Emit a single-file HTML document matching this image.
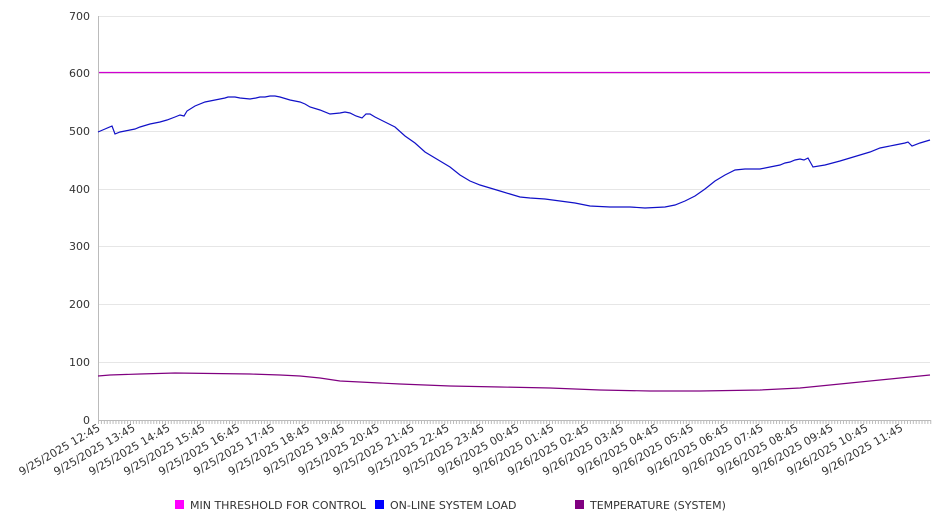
<!DOCTYPE html>
<html><head><meta charset="utf-8"><style>
html,body{margin:0;padding:0;background:#fff;}
svg{display:block;font-family:"DejaVu Sans","Liberation Sans",sans-serif;}
</style></head><body>
<svg width="946" height="526" viewBox="0 0 946 526" xmlns="http://www.w3.org/2000/svg">
<g stroke="#e6e6e6" stroke-width="1">
<line x1="98.5" y1="16.5" x2="930" y2="16.5"/>
<line x1="98.5" y1="73.5" x2="930" y2="73.5"/>
<line x1="98.5" y1="131.5" x2="930" y2="131.5"/>
<line x1="98.5" y1="189.5" x2="930" y2="189.5"/>
<line x1="98.5" y1="246.5" x2="930" y2="246.5"/>
<line x1="98.5" y1="304.5" x2="930" y2="304.5"/>
<line x1="98.5" y1="362.5" x2="930" y2="362.5"/>
</g>
<line x1="98.5" y1="16" x2="98.5" y2="420" stroke="#bbb"/>
<line x1="98" y1="420.5" x2="931" y2="420.5" stroke="#bbb"/>
<g id="ticks" stroke="#bbb"></g>
<g font-size="11" fill="#333" text-anchor="end">
<text x="90" y="20">700</text>
<text x="90" y="77">600</text>
<text x="90" y="135">500</text>
<text x="90" y="193">400</text>
<text x="90" y="250">300</text>
<text x="90" y="308">200</text>
<text x="90" y="366">100</text>
<text x="90" y="424">0</text>
</g>
<g id="xl" font-size="11" fill="#333" text-anchor="end"></g>
<line x1="99" y1="72.5" x2="930" y2="72.5" stroke="#d000d0" stroke-width="1.2"/>
<polyline fill="none" stroke="#1010c8" stroke-width="1.2" points="98,132 105,129 112,126 115,134 120,132 125,131 130,130 135,129 140,127 150,124 160,122 167,120 175,117 180,115 184,116 187,111 195,106 205,102 215,100 225,98 228,97 235,97 240,98 250,99 256,98 260,97 265,97 270,96 275,96 280,97 290,100 300,102 305,104 310,107 320,110 330,114 340,113 345,112 350,113 356,116 362,118 366,114 370,114 375,117 385,122 395,127 405,136 415,143 425,152 440,161 450,167 460,175 470,181 480,185 490,188 500,191 510,194 520,197 530,198 545,199 560,201 575,203 590,206 610,207 630,207 645,208 665,207 675,205 685,201 695,196 705,189 715,181 725,175 735,170 745,169 760,169 770,167 780,165 785,163 790,162 795,160 800,159 804,160 808,158 813,167 825,165 840,161 850,158 860,155 870,152 880,148 895,145 905,143 908,142 912,146 920,143 930,140"/>
<polyline fill="none" stroke="#800080" stroke-width="1.2" points="98,376 110,375 140,374 175,373 250,374 280,375 300,376 320,378 340,381 360,382 400,384 450,386 500,387 550,388 600,390 650,391 700,391 760,390 800,388 850,383 900,378 930,375"/>
<g font-size="11" fill="#333">
<rect x="175" y="500" width="9" height="9" fill="#ff00ff"/>
<text x="190" y="509">MIN THRESHOLD FOR CONTROL</text>
<rect x="375" y="500" width="9" height="9" fill="#0000ff"/>
<text x="390" y="509">ON-LINE SYSTEM LOAD</text>
<rect x="575" y="500" width="9" height="9" fill="#800080"/>
<text x="590" y="509">TEMPERATURE (SYSTEM)</text>
</g>
</svg>
<script>
var ns="http://www.w3.org/2000/svg";
var t=document.getElementById("ticks");
for(var x=98.5;x<=931;x+=2.91){var l=document.createElementNS(ns,"line");l.setAttribute("x1",x);l.setAttribute("x2",x);l.setAttribute("y1",420);l.setAttribute("y2",424);t.appendChild(l);}
var g=document.getElementById("xl");
for(var i=0;i<24;i++){var h=12+i;var d=h>=24?26:25;h=h%24;var s="9/"+d+"/2025 "+(h<10?"0":"")+h+":45";
var x=101+i*34.9,y=430;var e=document.createElementNS(ns,"text");e.setAttribute("x",x);e.setAttribute("y",y);e.setAttribute("transform","rotate(-30 "+x+" "+y+")");e.textContent=s;g.appendChild(e);}
</script>
</body></html>
